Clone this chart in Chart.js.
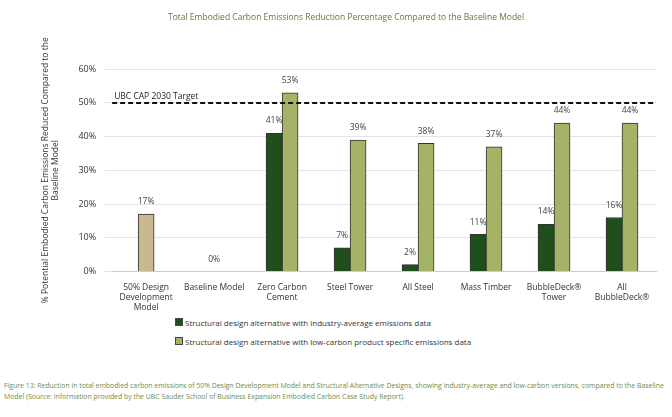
<!DOCTYPE html>
<html>
<head>
<meta charset="utf-8">
<script src="https://cdn.jsdelivr.net/npm/chart.js@4/dist/chart.umd.min.js"></script>
<style>
  body { margin: 0; background: #fff; font-family: 'Open Sans', sans-serif; }
  #wrap { position: absolute; left: 0; top: 0; width: 672px; height: 316px; }
  .leg { position: absolute; left: 175px; font-size: 8px; color: #333; }
  .leg span { display: inline-block; width: 6px; height: 6px; margin-right: 2px; border: 0.5px solid #444; }
  #cap { position: absolute; left: 4px; top: 380px; width: 664px; font-size: 6.9px; line-height: 11px; color: #6f8a4e; }
</style>
</head>
<body>
<div id="wrap"><canvas id="c"></canvas></div>
<div class="leg" style="top:317px"><span style="background:#1f4f1a"></span>Structural design alternative with industry-average emissions data</div>
<div class="leg" style="top:336px"><span style="background:#a4b365"></span>Structural design alternative with low-carbon product specific emissions data</div>
<div id="cap">Figure 13: Reduction in total embodied carbon emissions of 50% Design Development Model and Structural Alternative Designs, showing industry-average and low-carbon versions, compared to the Baseline Model (Source: information provided by the UBC Sauder School of Business Expansion Embodied Carbon Case Study Report).</div>
<script>
const categories = [['50% Design', 'Development', 'Model'], 'Baseline Model', ['Zero Carbon', 'Cement'], 'Steel Tower', 'All Steel', 'Mass Timber', ['BubbleDeck®', 'Tower'], ['All', 'BubbleDeck®']]
const designValues = [17, 0, null, null, null, null, null, null]
const industryValues = [null, null, 41, 7, 2, 11, 14, 16]
const lowCarbonValues = [null, null, 53, 39, 38, 37, 44, 44]
const targetValue = 50
const targetLabel = 'UBC CAP 2030 Target'

const overlay = {
  id: 'overlay',
  afterDatasetsDraw (chart) {
    const { ctx, chartArea, scales } = chart
    const y = scales.y.getPixelForValue(targetValue)
    ctx.save()
    ctx.strokeStyle = '#111'
    ctx.lineWidth = 2
    ctx.setLineDash([5, 3])
    ctx.beginPath()
    ctx.moveTo(chartArea.left, y)
    ctx.lineTo(chartArea.right, y)
    ctx.stroke()
    ctx.setLineDash([])
    ctx.fillStyle = '#222'
    ctx.font = '8.5px "Open Sans"'
    ctx.textBaseline = 'bottom'
    ctx.fillText(targetLabel, chartArea.left + 2, y - 2)
    // value labels
    ctx.textAlign = 'center'
    ctx.fillStyle = '#444'
    chart.data.datasets.forEach((ds, i) => {
      chart.getDatasetMeta(i).data.forEach((bar, j) => {
        const v = ds.data[j]
        if (v === null) return
        ctx.fillText(v + '%', bar.x, bar.y - 8)
      })
    })
    ctx.restore()
  }
}

new Chart(document.getElementById('c'), {
  type: 'bar',
  data: {
    labels: categories,
    datasets: [
      { data: designValues, backgroundColor: '#c8b98f' },
      { data: industryValues, backgroundColor: '#1f4f1a' },
      { data: lowCarbonValues, backgroundColor: '#a4b365' }
    ].map(ds => ({ ...ds, borderColor: '#333', borderWidth: 1, barThickness: 16, skipNull: true }))
  },
  options: {
    responsive: true,
    maintainAspectRatio: false,
    animation: false,
    layout: { padding: { top: 0, right: 16, left: 36, bottom: 0 } },
    plugins: {
      legend: { display: false },
      tooltip: { enabled: false },
      title: {
        display: true,
        text: 'Total Embodied Carbon Emissions Reduction Percentage Compared to the Baseline Model',
        color: '#5d7a3a',
        font: { size: 8.5, family: 'Open Sans', weight: 'normal' },
        padding: { top: 12, bottom: 47 }
      }
    },
    scales: {
      x: {
        grid: { display: false },
        border: { color: '#ccc' },
        ticks: { color: '#333', font: { size: 8.5, family: 'Open Sans' }, maxRotation: 0, autoSkip: false }
      },
      y: {
        min: 0,
        max: 60,
        ticks: { stepSize: 10, callback: v => v + '%', color: '#333', font: { size: 9, family: 'Open Sans' }, padding: 8 },
        grid: { color: '#e4e4e4' },
        border: { display: false },
        title: {
          display: true,
          text: ['% Potential Embodied Carbon Emissions Reduced Compared to the', 'Baseline Model'],
          color: '#333',
          font: { size: 8.5, family: 'Open Sans' },
          padding: { bottom: 10 }
        }
      }
    }
  },
  plugins: [overlay]
})
</script>
</body>
</html>
